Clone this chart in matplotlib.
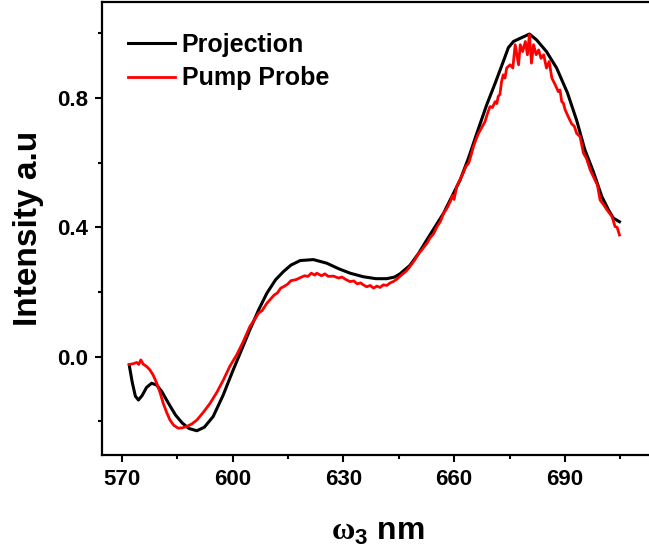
import numpy as np
import matplotlib
matplotlib.use("Agg")
import matplotlib.pyplot as plt
from matplotlib.ticker import MultipleLocator, FormatStrFormatter

# --------------------------------------------
# DATA
# --------------------------------------------

proj_x = [572.04, 572.87, 573.70, 574.53, 575.54, 576.73, 578.11, 579.49, 580.87, 582.71,
          584.55, 586.39, 588.23, 590.34, 592.37, 594.76, 597.42, 600.18, 602.48, 604.69,
          607.08, 609.29, 611.68, 613.79, 615.82, 618.30, 621.89, 625.47, 628.69, 631.82,
          635.40, 638.81, 641.75, 643.86, 645.34, 648.00, 650.30, 652.60, 657.11, 661.61,
          663.91, 666.12, 668.79, 671.09, 673.29, 674.67, 676.05, 677.89, 680.37, 682.30,
          684.97, 687.73, 690.67, 693.16, 695.36, 697.66, 699.96, 701.80, 703.09, 704.74]
proj_y = [-0.026, -0.080, -0.122, -0.134, -0.120, -0.095, -0.082, -0.088, -0.108, -0.145,
          -0.180, -0.205, -0.222, -0.229, -0.218, -0.185, -0.120, -0.041, 0.022, 0.083,
          0.145, 0.196, 0.238, 0.263, 0.283, 0.297, 0.300, 0.289, 0.272, 0.258,
          0.247, 0.241, 0.241, 0.246, 0.256, 0.282, 0.318, 0.361, 0.443, 0.546,
          0.615, 0.690, 0.778, 0.845, 0.912, 0.955, 0.974, 0.984, 0.997, 0.979,
          0.943, 0.892, 0.815, 0.730, 0.640, 0.572, 0.495, 0.453, 0.428, 0.417]

pp_x = [572.04, 573.06, 574.07, 574.62, 575.17, 575.81, 576.73, 577.65, 578.57, 579.49,
        580.41, 581.24, 582.16, 583.08, 584.09, 585.29, 586.39, 587.59, 588.96, 590.34,
        592.09, 593.93, 595.77, 597.52, 599.26, 601.10, 602.85, 604.69, 606.16, 607.08,
        608.00, 609.29, 610.30, 611.22, 612.14, 613.06, 613.79, 614.90, 615.82, 617.20,
        618.30, 619.50, 620.42, 621.33, 622.25, 622.81, 624.09, 625.01, 625.93, 627.31,
        628.69, 629.61, 630.90, 631.82, 632.83, 633.75, 634.67, 635.40, 636.32, 637.24,
        638.16, 639.08, 639.91, 640.83, 641.75, 642.67, 643.50, 644.42, 645.70, 647.08,
        648.00, 649.38, 650.30, 651.22, 652.60, 653.52, 654.44, 655.36, 656.28, 657.11,
        658.12, 659.04, 659.50, 659.96, 660.69, 661.61, 662.53, 663.18, 663.91, 664.56,
        665.20, 665.93, 666.58, 667.31, 668.33, 668.97, 669.70, 670.35, 671.09, 671.54,
        671.91, 672.37, 672.83, 673.29, 673.75, 674.21, 675.13, 675.87, 676.51, 676.97,
        677.43, 677.89, 678.53, 679.27, 679.82, 680.37, 680.92, 681.48, 682.21, 682.86,
        683.50, 684.24, 684.97, 685.71, 686.44, 687.36, 688.19, 688.65, 689.11, 689.57,
        690.03, 690.86, 691.78, 692.51, 693.16, 694.07, 694.99, 695.82, 696.83, 698.12,
        698.77, 699.50, 700.42, 701.34, 702.72, 703.55, 704.10, 704.74]
pp_y = [-0.024, -0.022, -0.018, -0.024, -0.010, -0.023, -0.030, -0.041, -0.058, -0.082,
        -0.112, -0.144, -0.172, -0.196, -0.212, -0.221, -0.220, -0.216, -0.208, -0.196,
        -0.172, -0.144, -0.110, -0.072, -0.030, 0.005, 0.045, 0.093, 0.118, 0.135,
        0.142, 0.165, 0.178, 0.190, 0.197, 0.212, 0.216, 0.224, 0.235, 0.238,
        0.244, 0.250, 0.248, 0.258, 0.252, 0.258, 0.250, 0.256, 0.248, 0.249,
        0.243, 0.246, 0.237, 0.232, 0.234, 0.225, 0.228, 0.222, 0.216, 0.220,
        0.212, 0.218, 0.214, 0.222, 0.220, 0.228, 0.232, 0.239, 0.252, 0.265,
        0.278, 0.300, 0.318, 0.330, 0.350, 0.368, 0.380, 0.402, 0.418, 0.443,
        0.460, 0.482, 0.498, 0.486, 0.526, 0.548, 0.570, 0.588, 0.598, 0.622,
        0.649, 0.672, 0.690, 0.705, 0.726, 0.750, 0.773, 0.770, 0.788, 0.782,
        0.804, 0.810, 0.850, 0.871, 0.861, 0.892, 0.902, 0.892, 0.964, 0.933,
        0.902, 0.964, 0.943, 0.974, 0.933, 0.995, 0.907, 0.964, 0.933, 0.948,
        0.922, 0.933, 0.892, 0.912, 0.861, 0.840, 0.819, 0.824, 0.788, 0.783,
        0.763, 0.742, 0.720, 0.712, 0.690, 0.680, 0.629, 0.612, 0.577, 0.546,
        0.530, 0.484, 0.470, 0.454, 0.433, 0.402, 0.400, 0.376]

# --------------------------------------------
# STYLE
# --------------------------------------------

plt.rcParams['font.family'] = ['Liberation Sans', 'DejaVu Sans']
plt.rcParams['font.weight'] = 'bold'
plt.rcParams['mathtext.fontset'] = 'custom'
plt.rcParams['mathtext.rm'] = 'Liberation Serif'
plt.rcParams['mathtext.bf'] = 'Liberation Sans:bold'

fig = plt.figure(figsize=(6.49, 5.58), dpi=100)
# axes run past the right edge of the picture, as in the reference
ax = fig.add_axes([0.1579, 0.1851, 0.855, 0.8113])

ax.plot(proj_x, proj_y, color='black', lw=2.2, label='Projection')
ax.plot(pp_x, pp_y, color='#ff0000', lw=2.0, label='Pump Probe')

ax.set_xlim(564.8, 715)
ax.set_ylim(-0.303, 1.096)

ax.xaxis.set_major_locator(MultipleLocator(30))
ax.xaxis.set_minor_locator(MultipleLocator(15))
ax.yaxis.set_major_locator(MultipleLocator(0.4))
ax.yaxis.set_minor_locator(MultipleLocator(0.2))
ax.yaxis.set_major_formatter(FormatStrFormatter('%.1f'))

ax.tick_params(which='major', direction='out', length=5, width=1.5, labelsize=16, pad=5)
ax.tick_params(which='minor', direction='out', length=3, width=1.5)
ax.tick_params(axis='y', which='both', right=False)
ax.tick_params(axis='x', which='both', top=False)
for lab in ax.get_xticklabels() + ax.get_yticklabels():
    lab.set_fontweight('bold')

for s in ax.spines.values():
    s.set_linewidth(1.6)

ax.set_xlabel(r'$\mathrm{\omega}_\mathbf{3}$ nm', fontsize=23, fontweight='bold')
ax.xaxis.set_label_coords(0.497, -0.1376)
ax.set_ylabel('Intensity a.u', fontsize=24, fontweight='bold')
ax.yaxis.set_label_coords(-0.105, 0.5)

ax.legend(loc='upper left', bbox_to_anchor=(128 / 649, 1 - 33 / 558),
          bbox_transform=fig.transFigure, frameon=False, fontsize=18,
          handlelength=1.88, handletextpad=0.27, labelspacing=0.38,
          borderpad=0, borderaxespad=0)

fig.savefig('out.png', dpi=100)
